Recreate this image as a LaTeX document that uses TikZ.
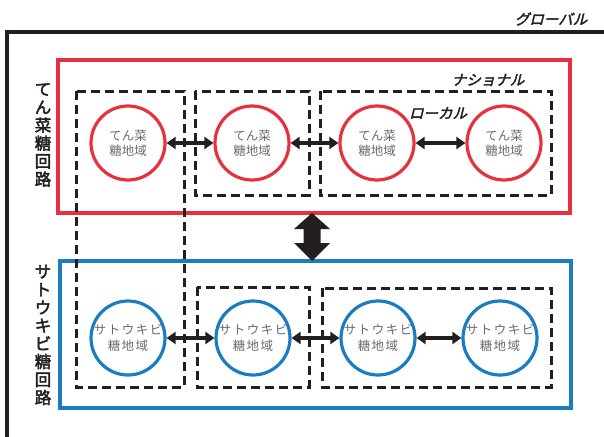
\documentclass[tikz,border=0pt]{standalone}
\usepackage{fontspec}
\setmainfont{Noto Sans CJK JP}
\newfontfamily\jp{Noto Sans CJK JP}
\newfontfamily\jpbold[FakeBold=2.5]{Noto Sans CJK JP}
\newfontfamily\jpbi[FakeBold=2.5,FakeSlant=0.25]{Noto Sans CJK JP}
\newfontfamily\jpsp[LetterSpace=12]{Noto Sans CJK JP}
\usetikzlibrary{arrows.meta}
\definecolor{myred}{HTML}{E8313F}
\definecolor{myblue}{HTML}{1B7CC1}
\definecolor{txtgray}{HTML}{6A6A6A}
\definecolor{ink}{HTML}{231F20}
\begin{document}
\begin{tikzpicture}[x=1pt,y=-1pt,
  globalline/.style={draw=ink, line width=3.2pt},
  redregion/.style={draw=myred, line width=3.2pt},
  blueregion/.style={draw=myblue, line width=3.2pt},
  dbox/.style={draw=ink, line width=3pt, dash pattern=on 9pt off 5pt},
  area/.style={circle, draw, line width=3.2pt, minimum size=74pt, inner sep=0pt,
    align=center, text=txtgray, font=\jp\fontsize{12.5}{15.5}\selectfont},
  redarea/.style={area, draw=myred},
  bluearea/.style={area, draw=myblue, font=\jpsp\fontsize{12.5}{15.5}\selectfont},
  link/.style={draw=ink, line width=3.5pt, {Triangle[length=9pt,width=12pt]}-{Triangle[length=9pt,width=12pt]}},
  scalelabel/.style={font=\jpbi\fontsize{14.5}{16}\selectfont, text=ink, inner sep=0pt},
  sidelabel/.style={font=\jpbold\fontsize{16.5}{18}\selectfont, text=ink, align=center, inner sep=0pt},
]
\useasboundingbox (0,0) rectangle (604,436);

% global frame
\coordinate (gbl) at (7,440);
\coordinate (gtl) at (7,32);
\coordinate (gtr) at (608,32);
\draw[globalline] (gbl) -- (gtl) -- (gtr);
\node[scalelabel] (global) at (551,19) {グローバル};

% national regions
\draw[redregion] (58,60) rectangle (570,213);
\draw[blueregion] (60,261) rectangle (571,408);

% dashed local boxes
\draw[dbox] (76,91) rectangle (184,387);
\draw[dbox] (195,91) rectangle (309,195);
\draw[dbox] (320,91) rectangle (551,195);
\draw[dbox] (197,287) rectangle (309,387);
\draw[dbox] (322,288) rectangle (551,387);

% labels
\node[scalelabel] (national) at (488,80) {ナショナル};
\node[scalelabel] (local) at (438,113) {ローカル};
\node[sidelabel] (beet) at (43,135) {て\\ん\\菜\\糖\\回\\路};
\node[sidelabel] (cane) at (43,335) {サ\\ト\\ウ\\キ\\ビ\\糖\\回\\路};

% areas
\node[redarea] (t1) at (128,143) {てん菜\\糖地域};
\node[redarea] (t2) at (252,143) {てん菜\\糖地域};
\node[redarea] (t3) at (377,143) {てん菜\\糖地域};
\node[redarea] (t4) at (504,143) {てん菜\\糖地域};
\node[bluearea] (b1) at (128,338) {サトウキビ\\糖地域};
\node[bluearea] (b2) at (253,338) {サトウキビ\\糖地域};
\node[bluearea] (b3) at (378,338) {サトウキビ\\糖地域};
\node[bluearea] (b4) at (500,338) {サトウキビ\\糖地域};

% links
\draw[link] (t1) -- (t2);
\draw[link] (t2) -- (t3);
\draw[link] (t3) -- (t4);
\draw[link] (b1) -- (b2);
\draw[link] (b2) -- (b3);
\draw[link] (b3) -- (b4);

% big double arrow between the two circuits
\coordinate (bigtop) at (312,213);
\fill[ink, shift={(bigtop)}] (0,0) -- (18,16) -- (8.5,16) -- (8.5,30) -- (18,30) -- (0,48)
  -- (-18,30) -- (-8.5,30) -- (-8.5,16) -- (-18,16) -- cycle;
\end{tikzpicture}
\end{document}
